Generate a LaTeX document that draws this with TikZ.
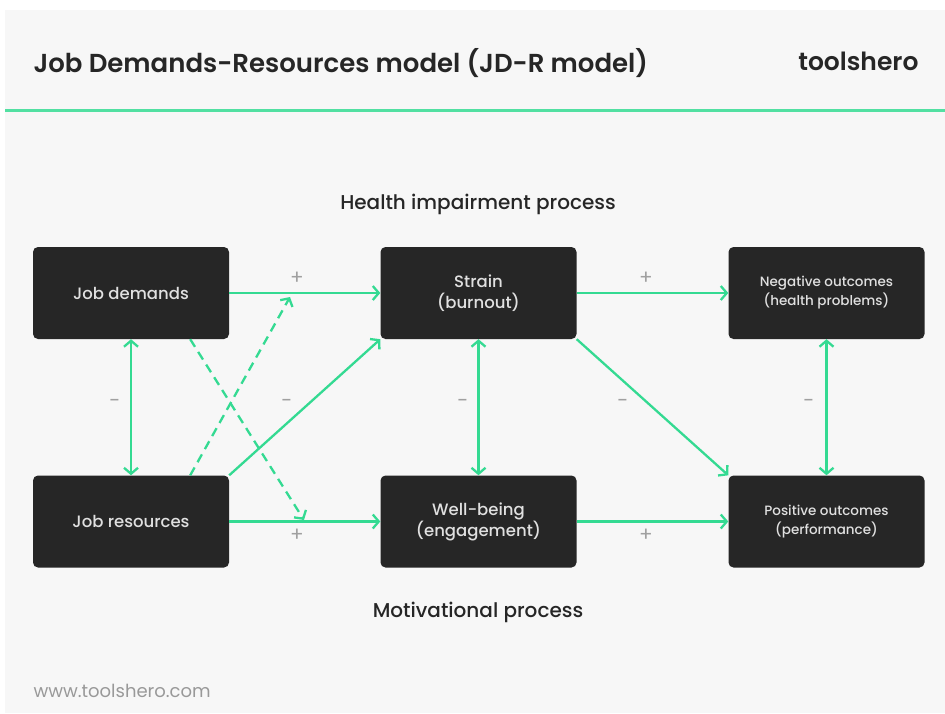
\documentclass[tikz,border=0pt]{standalone}
\usepackage{fontspec}
\setmainfont{Poppins}
\newfontfamily\medium{Poppins Medium}
\newfontfamily\semibold{Poppins SemiBold}
\usetikzlibrary{arrows.meta,calc}
\definecolor{jdgreen}{RGB}{52,218,146}
\definecolor{boxgray}{RGB}{38,38,38}
\definecolor{paper}{RGB}{247,247,247}
\definecolor{signgray}{RGB}{160,160,160}
\begin{document}
\begin{tikzpicture}[x=1pt,y=-1pt,
    box/.style={fill=boxgray, rounded corners=5pt, minimum width=196pt, minimum height=92pt,
                inner sep=0pt, align=center, text=white!88!black, font=\medium\fontsize{16.5}{21}\selectfont},
    smallbox/.style={box, font=\medium\fontsize{13.5}{19}\selectfont},
    link/.style={draw=jdgreen, line width=2.3pt, -{Straight Barb[length=6pt,width=14pt]}},
    both/.style={link, {Straight Barb[length=6pt,width=14pt]}-{Straight Barb[length=6pt,width=14pt]}},
    sign/.style={text=signgray, font=\fontsize{20}{20}\selectfont}]
    % Fundo e cabecalho
    \useasboundingbox (0,0) rectangle (945,713);
    \fill[white] (0,0) rectangle (945,713);
    \fill[paper] (5,10) rectangle (945,713);
    \draw[jdgreen!85!white, line width=3pt] (5,110) -- (945,110);
    \node[anchor=base west, font=\semibold\fontsize{26}{26}\selectfont, text=black!85] (title) at (30,72) {Job Demands-Resources model (JD-R model)};
    \node[anchor=base east, font=\semibold\fontsize{25}{25}\selectfont, text=black!85] (brand) at (922,70) {toolshero};
    \node[anchor=base west, font=\fontsize{18}{18}\selectfont, text=black!40] (site) at (30,697) {www.toolshero.com};
    % Titulos dos processos
    \node[font=\medium\fontsize{20}{20}\selectfont, text=black!85] (health) at (478,204) {Health impairment process};
    \node[font=\medium\fontsize{20}{20}\selectfont, text=black!85] (motiv) at (478,612) {Motivational process};
    % Caixas
    \node[box] (jd) at (131,293) {Job demands};
    \node[box] (jr) at (131,521.5) {Job resources};
    \node[box] (st) at (478.5,293) {Strain\\(burnout)};
    \node[box] (wb) at (478.5,521.5) {Well-being\\(engagement)};
    \node[smallbox] (neg) at (826.5,293) {Negative outcomes\\(health problems)};
    \node[smallbox] (pos) at (826.5,521.5) {Positive outcomes\\(performance)};
    % Pontas das setas tracejadas
    \coordinate (upTip) at (290,297);
    \coordinate (downTip) at (304,520);
    % Setas
    \draw[link] (jd) -- (st);
    \draw[link] (jr) -- (wb);
    \draw[link] (st) -- (neg);
    \draw[link] (wb) -- (pos);
    \draw[link] (jr.north east) -- (st.south west);
    \draw[link] (st.south east) -- (pos.north west);
    \draw[link, dashed, dash pattern=on 9pt off 6pt] ($(jr.north east)+(-39,0)$) -- (upTip);
    \draw[link, dashed, dash pattern=on 9pt off 6pt] ($(jd.south east)+(-39,0)$) -- (downTip);
    \draw[both] (jd) -- (jr);
    \draw[both] (st) -- (wb);
    \draw[both] (neg) -- (pos);
    % Sinais
    \node[sign] (s1) at (297,278) {+};
    \node[sign] (s2) at (297,535) {+};
    \node[sign] (s3) at (646,278) {+};
    \node[sign] (s4) at (646,535) {+};
    \node[sign] (m1) at (115,403) {-};
    \node[sign] (m2) at (287,403) {-};
    \node[sign] (m3) at (463,403) {-};
    \node[sign] (m4) at (623,403) {-};
    \node[sign] (m5) at (809,403) {-};
\end{tikzpicture}
\end{document}
